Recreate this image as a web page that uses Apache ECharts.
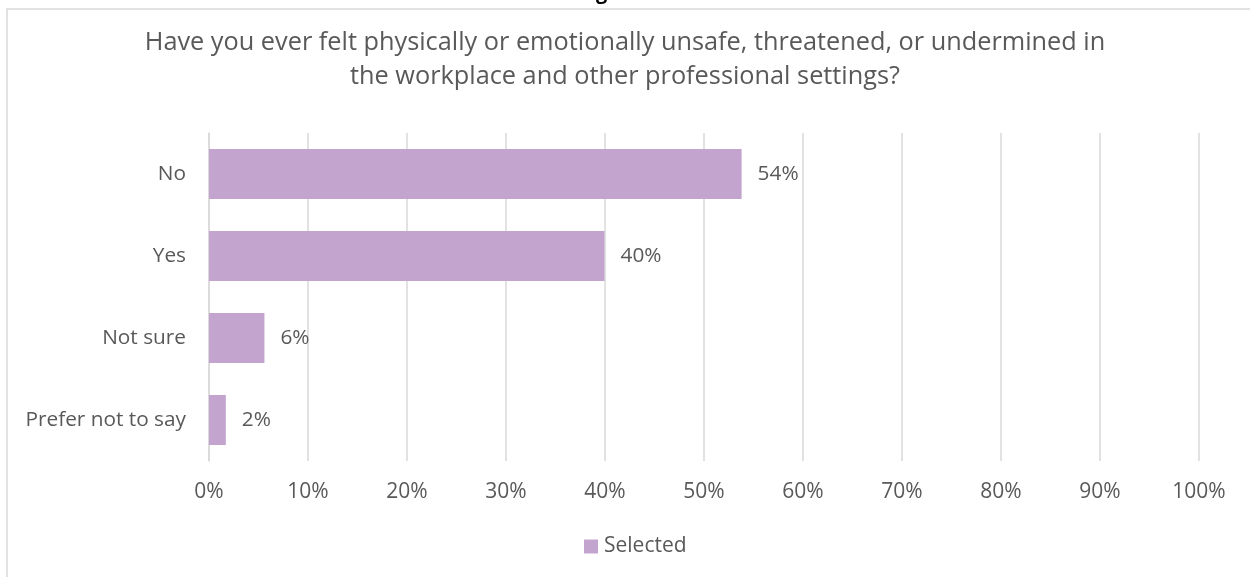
<!DOCTYPE html>
<html>
<head>
<meta charset="utf-8">
<script src="https://cdn.jsdelivr.net/npm/echarts@6/dist/echarts.min.js"></script>
<style>
  html, body { margin: 0; padding: 0; background: #fff; }
  #chart { width: 1250px; height: 577px; }
</style>
</head>
<body>
<div id="chart"></div>
<script>
// Survey answers, top to bottom
const categories = ['No', 'Yes', 'Not sure', 'Prefer not to say'];
const selected = [53.8, 39.95, 5.6, 1.7];
const valueLabels = ['54%', '40%', '6%', '2%'];
const seriesName = 'Selected';
const titleText = 'Have you ever felt physically or emotionally unsafe, threatened, or undermined in\nthe workplace and other professional settings?';

const FONT = '"Open Sans", "Noto Sans", sans-serif';
const TEXT = '#595959';

const chart = echarts.init(document.getElementById('chart'), null, { renderer: 'canvas' });
chart.setOption({
  animation: false,
  backgroundColor: '#fff',
  textStyle: { fontFamily: FONT },
  graphic: [
    { type: 'rect', shape: { x: 7, y: 9, width: 1280, height: 620 },
      style: { fill: 'none', stroke: '#d9d9d9', lineWidth: 1.5 }, silent: true },
    { type: 'text', x: 596, y: -17,
      style: { text: 'g', fontSize: 20, fontWeight: 'bold', fontFamily: FONT, fill: '#000' } },
    { type: 'text', x: 625, y: 26,
      style: { text: titleText, fontSize: 25.3, fontFamily: FONT, fill: TEXT,
               align: 'center', verticalAlign: 'top', lineHeight: 34 } }
  ],
  legend: {
    data: [seriesName],
    top: 531,
    left: 579,
    itemWidth: 14,
    itemHeight: 14,
    itemGap: 6,
    icon: 'rect',
    textStyle: { fontFamily: FONT, fontSize: 21, color: TEXT, padding: [0, 0, 0, 1] }
  },
  grid: { left: 209, right: 51, top: 133, bottom: 116, containLabel: false },
  xAxis: {
    type: 'value',
    min: 0, max: 100, interval: 10,
    axisLine: { show: false },
    axisTick: { show: false },
    splitLine: { show: true, lineStyle: { color: '#d9d9d9', width: 1.5 } },
    axisLabel: { formatter: '{value}%', fontFamily: FONT, fontSize: 21, color: TEXT, margin: 21 }
  },
  yAxis: {
    type: 'category',
    data: categories,
    inverse: true,
    axisLine: { show: true, lineStyle: { color: '#d9d9d9', width: 1.5 } },
    axisTick: { show: false },
    axisLabel: { fontFamily: FONT, fontSize: 20.8, color: TEXT, margin: 23 }
  },
  series: [{
    name: seriesName,
    type: 'bar',
    data: selected,
    barCategoryGap: '39%',
    itemStyle: { color: '#c3a4cf' },
    label: {
      show: true,
      position: 'right',
      distance: 16,
      fontFamily: FONT,
      fontSize: 20.8,
      color: TEXT,
      formatter: p => valueLabels[p.dataIndex]
    }
  }]
});
</script>
</body>
</html>
